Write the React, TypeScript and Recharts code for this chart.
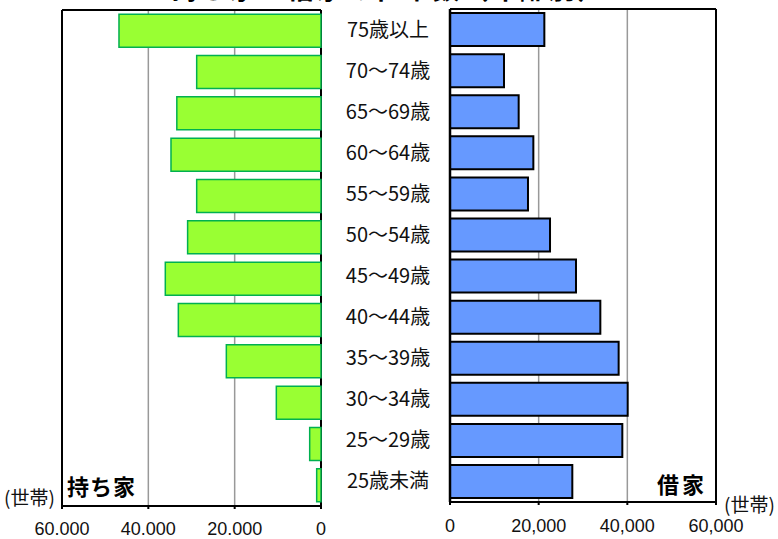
import React from "react";
import { BarChart, Bar, XAxis, YAxis, CartesianGrid } from "recharts";

const ageGroups = [
  "75歳以上",
  "70～74歳",
  "65～69歳",
  "60～64歳",
  "55～59歳",
  "50～54歳",
  "45～49歳",
  "40～44歳",
  "35～39歳",
  "30～34歳",
  "25～29歳",
  "25歳未満",
];

const ownedHouseholds = [46800, 28800, 33400, 34750, 28800, 30900, 36070, 33050, 21930, 10350, 2620, 1000];
const rentedHouseholds = [21280, 12180, 15490, 18800, 17590, 22560, 28420, 33910, 38040, 40080, 38870, 27590];

const xTicks = [0, 20000, 40000, 60000];

const data = ageGroups.map((age, i) => ({
  age,
  owned: ownedHouseholds[i],
  rented: rentedHouseholds[i],
}));

const FONT = "'Noto Sans CJK JP', 'Noto Sans', sans-serif";
const NUMFONT = "'Liberation Sans', Arial, sans-serif";

const leftFmt = (v: number) => v.toLocaleString("en-US").replace(/,/g, ".");
const rightFmt = (v: number) => v.toLocaleString("en-US");

const edgeH = ({ offset }: any) => [offset.top, offset.top + offset.height];
const edgeV = ({ offset }: any) => [offset.left, offset.left + offset.width];

const MiddleTick = (props: any) => {
  const { y, payload } = props;
  return (
    <text
      x={67}
      y={y}
      dy={7}
      textAnchor="middle"
      fontSize={20}
      fontFamily={FONT}
      fill="#111"
    >
      {payload.value}
    </text>
  );
};

export default function App() {
  return (
    <div
      style={{
        position: "absolute",
        left: 0,
        top: 0,
        width: 778,
        height: 539,
        overflow: "hidden",
        background: "#fff",
        fontFamily: FONT,
      }}
    >
      <div
        style={{
          position: "absolute",
          left: 0,
          width: 778,
          top: -28,
          textAlign: "center",
          fontSize: 27,
          fontWeight: 700,
          letterSpacing: 2,
          color: "#000",
          lineHeight: "32px",
        }}
      >
        持ち家と借家の世帯数（年齢別）
      </div>

      {/* Left chart: 持ち家 */}
      <div style={{ position: "absolute", left: 0, top: 0 }}>
        <BarChart
          width={340}
          height={539}
          data={data}
          layout="vertical"
          margin={{ top: 10, left: 62, right: 19, bottom: 9 }}
          barCategoryGap="10%"
        >
          <CartesianGrid horizontal={false} stroke="#999" strokeWidth={1.5} xAxisId="bottom" yAxisId="cat" />
          <CartesianGrid
            xAxisId="bottom"
            yAxisId="cat"
            stroke="#000"
            strokeWidth={2}
            horizontalCoordinatesGenerator={edgeH}
            verticalCoordinatesGenerator={edgeV}
          />
          <XAxis
            xAxisId="bottom"
            type="number"
            domain={[0, 60000]}
            ticks={xTicks}
            reversed
            height={24}
            tickFormatter={leftFmt}
            tick={{ fontSize: 18, fill: "#111", fontFamily: NUMFONT }}
            tickSize={3}
            tickMargin={13}
            stroke="#000"
            strokeWidth={2}
            interval={0}
          />
          <YAxis
            yAxisId="cat"
            type="category"
            dataKey="age"
            orientation="right"
            width={0}
            tick={false}
            tickLine={false}
            stroke="#000"
            strokeWidth={2}
          />
          <Bar
            dataKey="owned"
            xAxisId="bottom"
            yAxisId="cat"
            fill="#99FF33"
            stroke="#00B050"
            strokeWidth={1.5}
            isAnimationActive={false}
          />
        </BarChart>
      </div>

      {/* Right chart: 借家 */}
      <div style={{ position: "absolute", left: 321, top: 0 }}>
        <BarChart
          width={457}
          height={539}
          data={data}
          layout="vertical"
          margin={{ top: 9, left: 0, right: 62, bottom: 13 }}
          barCategoryGap="10%"
        >
          <CartesianGrid horizontal={false} stroke="#999" strokeWidth={1.5} xAxisId="bottom" yAxisId="cat" />
          <CartesianGrid
            xAxisId="bottom"
            yAxisId="cat"
            stroke="#000"
            strokeWidth={2}
            horizontalCoordinatesGenerator={edgeH}
            verticalCoordinatesGenerator={edgeV}
          />
          <XAxis
            xAxisId="bottom"
            type="number"
            domain={[0, 60000]}
            ticks={xTicks}
            height={24}
            tickFormatter={rightFmt}
            tick={{ fontSize: 18, fill: "#111", fontFamily: NUMFONT }}
            tickSize={3}
            tickMargin={14}
            stroke="#000"
            strokeWidth={2}
            interval={0}
          />
          <YAxis
            yAxisId="cat"
            type="category"
            dataKey="age"
            orientation="left"
            width={129}
            tick={<MiddleTick />}
            tickLine={false}
            interval={0}
            stroke="#000"
            strokeWidth={2.5}
          />
          <Bar
            dataKey="rented"
            xAxisId="bottom"
            yAxisId="cat"
            fill="#6699FF"
            stroke="#000"
            strokeWidth={2}
            isAnimationActive={false}
          />
        </BarChart>
      </div>

      <div style={{ position: "absolute", left: 4, top: 486, fontSize: 19, color: "#111", lineHeight: "22px" }}>
        (世帯)
      </div>
      <div style={{ position: "absolute", left: 724, top: 493, fontSize: 19, color: "#111", lineHeight: "22px" }}>
        (世帯)
      </div>
      <div
        style={{
          position: "absolute",
          left: 67,
          top: 470,
          fontSize: 22,
          fontWeight: 700,
          letterSpacing: 1,
          color: "#000",
          lineHeight: "30px",
        }}
      >
        持ち家
      </div>
      <div
        style={{
          position: "absolute",
          left: 657,
          top: 468,
          fontSize: 22,
          fontWeight: 700,
          letterSpacing: 3,
          color: "#000",
          lineHeight: "30px",
        }}
      >
        借家
      </div>
    </div>
  );
}
